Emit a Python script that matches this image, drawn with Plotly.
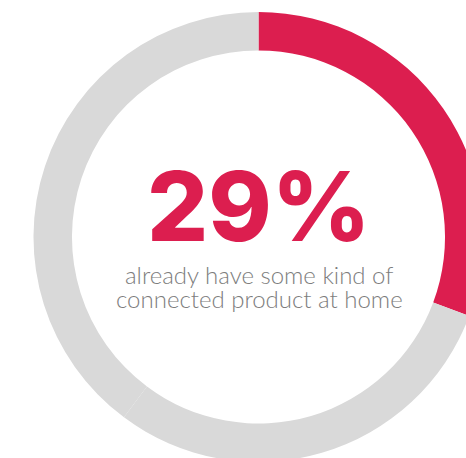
import plotly.graph_objects as go

# Data
segments = ["Connected product", "Other A", "Other B"]
shares = [30.7, 29.5, 39.8]          # arc shares as drawn
headline = "29%"
caption_lines = ["already have some kind of", "connected product at home"]

RED = "#DC1E4F"
GRAY = "#D9D9D9"
TEXT_GRAY = "#7D7D7D"

W, H = 484, 462   # figure slightly larger than window; ring is cropped on right/bottom like the reference

def py(px):
    return 1 - px / H

def pxx(px):
    return px / W

fig = go.Figure(go.Pie(
    labels=segments,
    values=shares,
    hole=0.829,
    sort=False,
    direction="clockwise",
    rotation=0,
    marker=dict(colors=[RED, GRAY, GRAY], line=dict(width=0)),
    textinfo="none",
    hoverinfo="skip",
    showlegend=False,
    domain=dict(x=[33.5 / W, 483.5 / W], y=[0, py(12)]),
))

fig.add_annotation(
    x=pxx(259), y=py(206), xref="paper", yref="paper",
    text=headline, showarrow=False, xanchor="center", yanchor="middle",
    font=dict(family="Inter", size=96, color=RED, weight=800),
)
fig.add_annotation(
    x=pxx(259), y=py(274.5), xref="paper", yref="paper",
    text=caption_lines[0], showarrow=False, xanchor="center", yanchor="middle",
    font=dict(family="Lato", size=24, color=TEXT_GRAY, weight=300),
)
fig.add_annotation(
    x=pxx(259), y=py(298), xref="paper", yref="paper",
    text=caption_lines[1], showarrow=False, xanchor="center", yanchor="middle",
    font=dict(family="Lato", size=24, color=TEXT_GRAY, weight=300),
)

fig.update_layout(
    width=W, height=H,
    margin=dict(l=0, r=0, t=0, b=0),
    paper_bgcolor="white", plot_bgcolor="white",
)

fig.write_html(
    "out.html",
    config={"displayModeBar": False, "staticPlot": True},
    post_script="document.documentElement.style.overflow='hidden';document.body.style.overflow='hidden';document.body.style.margin='0';",
)
